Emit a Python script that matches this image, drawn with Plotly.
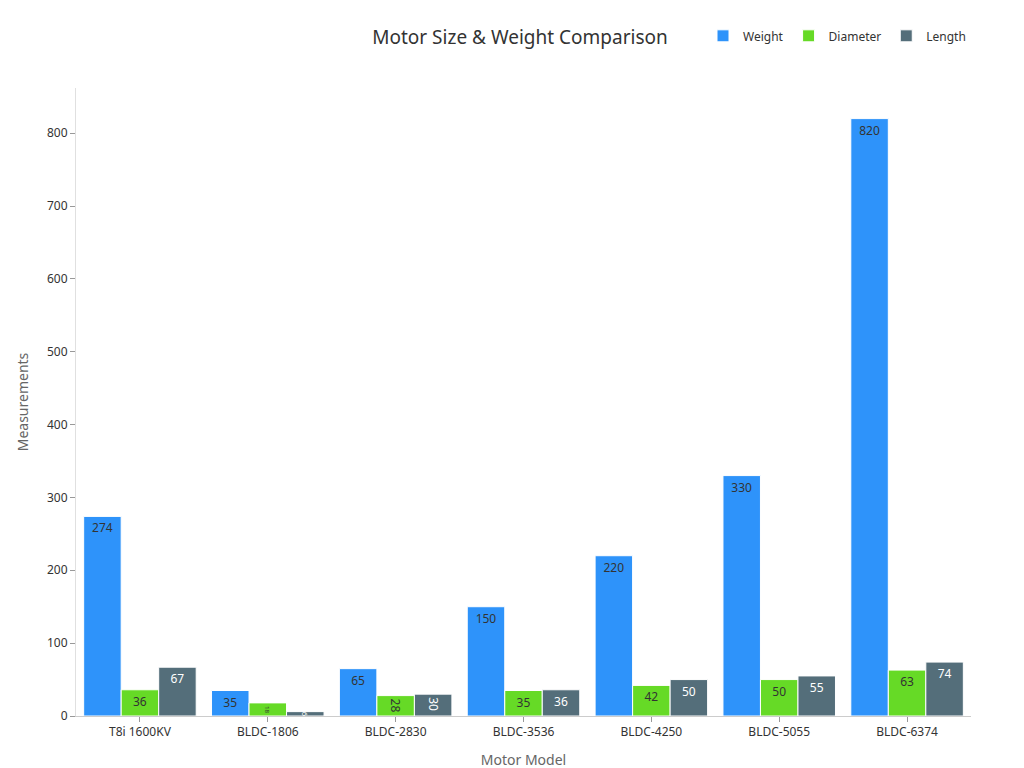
import plotly.graph_objects as go

models = ["T8i 1600KV", "BLDC-1806", "BLDC-2830", "BLDC-3536", "BLDC-4250", "BLDC-5055", "BLDC-6374"]
weight = [274, 35, 65, 150, 220, 330, 820]
diameter = [36, 18, 28, 35, 42, 50, 63]
length = [67, 6, 30, 36, 50, 55, 74]

series = [
    ("Weight", weight, "#2E93FA", "#333333"),
    ("Diameter", diameter, "#66DA26", "#333333"),
    ("Length", length, "#546E7A", "#ffffff"),
]

fig = go.Figure()
for name, vals, color, tcolor in series:
    fig.add_trace(go.Bar(
        x=models, y=vals, name=name,
        marker=dict(color=color, line=dict(color="white", width=1)),
        text=vals, textposition="inside", insidetextanchor="end",
        textfont=dict(color=tcolor, size=12),
        constraintext="inside",
    ))

fig.update_layout(
    title=dict(text="Motor Size & Weight Comparison", x=0.5, y=0.97,
               font=dict(size=19, color="#333333")),
    font=dict(family="Noto Sans, DejaVu Sans, sans-serif", size=12, color="#333333"),
    barmode="group", bargap=0.12, bargroupgap=0.0,
    plot_bgcolor="white", paper_bgcolor="white",
    width=1024, height=768,
    margin=dict(l=68, r=61, t=80, b=60),
    legend=dict(orientation="h", x=1, xanchor="right", y=1.06, yanchor="bottom",
                font=dict(size=12)),
    xaxis=dict(title=dict(text="Motor Model", font=dict(size=14, color="#666666")),
               showline=True, linecolor="#cccccc", ticks="outside", tickcolor="#999999"),
    yaxis=dict(title=dict(text="Measurements", font=dict(size=14, color="#666666")),
               range=[0, 862], dtick=100, showgrid=False, showline=True,
               linecolor="#e0e0e0", ticks="outside", tickcolor="#999999", zeroline=False),
)

fig.write_html("out.html")
